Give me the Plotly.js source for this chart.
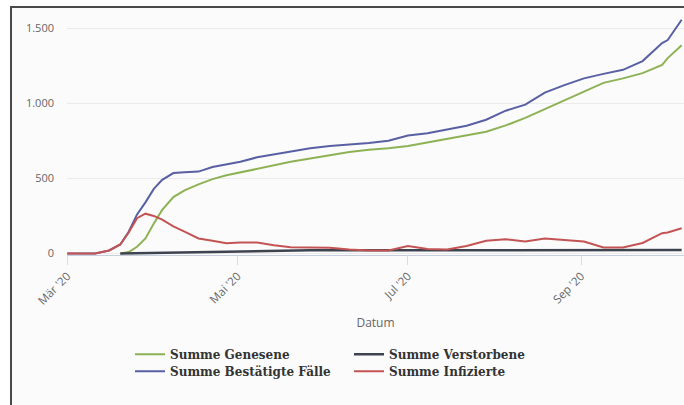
<!DOCTYPE html>
<html>
<head>
<meta charset="utf-8">
<script src="https://cdn.plot.ly/plotly-3.0.1.min.js"></script>
<style>
  html, body { margin: 0; padding: 0; background: #ffffff; }
  #wrap { position: relative; width: 684px; height: 405px; overflow: hidden; }
  #frame { position: absolute; left: 10px; top: 6px; right: -4px; bottom: -4px;
           border-left: 2px solid #4a4a4a; border-top: 2px solid #4a4a4a; background: #fbfbfb; }
  #chart { position: absolute; left: 0; top: 0; width: 684px; height: 405px; }
</style>
</head>
<body>
<div id="wrap">
  <div id="frame"></div>
  <div id="chart"></div>
</div>
<script>
// Dates (daily reports, sampled)
const dates = [
  '2020-03-01','2020-03-11','2020-03-16','2020-03-20','2020-03-23','2020-03-26','2020-03-29',
  '2020-04-01','2020-04-04','2020-04-08','2020-04-12','2020-04-17','2020-04-22','2020-04-27',
  '2020-05-02','2020-05-08','2020-05-14','2020-05-20','2020-05-27','2020-06-03','2020-06-10',
  '2020-06-17','2020-06-24','2020-07-01','2020-07-08','2020-07-15','2020-07-22','2020-07-29',
  '2020-08-05','2020-08-12','2020-08-19','2020-08-26','2020-09-02','2020-09-09','2020-09-16',
  '2020-09-23','2020-09-30','2020-10-02','2020-10-07'
];
const summeGenesene = [
  null, null, null, 0, 10, 45, 100,
  200, 290, 375, 420, 460, 495, 520,
  540, 560, 585, 610, 632, 655, 675,
  690, 700, 715, 740, 762, 785, 810,
  852, 902, 960, 1020, 1080, 1135, 1165,
  1200, 1255, 1300, 1385
];
const summeVerstorbene = [
  null, null, null, 0, 1, 2, 3,
  4, 6, 8, 10, 12, 14, 15,
  16, 18, 19, 20, 21, 21, 22,
  22, 22, 22, 22, 22, 22, 22,
  22, 22, 22, 22, 22, 22, 22,
  23, 23, 23, 24
];
const summeBestaetigte = [
  0, 0, 20, 60, 145, 260, 340,
  430, 490, 535, 540, 545, 575, 595,
  610, 640, 660, 680, 700, 715, 725,
  735, 750, 785, 800, 825, 850, 890,
  950, 990, 1070, 1120, 1165, 1195, 1222,
  1280, 1400, 1420, 1555
];
const summeInfizierte = [
  0, 0, 20, 60, 140, 235, 265,
  250, 225, 180, 145, 100, 85, 68,
  73, 73, 55, 42, 40, 38, 27,
  20, 20, 50, 30, 27, 50, 85,
  95, 80, 100, 90, 80, 40, 40,
  70, 135, 140, 168
];
const tickDates = ['2020-03-01','2020-05-01','2020-07-01','2020-09-01'];
const tickLabels = ["Mär '20","Mai '20","Jul '20","Sep '20"];
const yTickVals = [0, 500, 1000, 1500];
const yTickLabels = ['0', '500', '1.000', '1.500'];

const mk = (name, y, color, legend, width) => ({
  type: 'scatter', mode: 'lines', name: name, x: dates, y: y,
  line: {color: color, width: width}, connectgaps: false, legend: legend,
  hovertemplate: '%{x}<br>' + name + ': %{y}<extra></extra>'
});

const data = [
  mk('Summe Genesene', summeGenesene, '#8db255', 'legend', 2),
  mk('Summe Verstorbene', summeVerstorbene, '#3e4350', 'legend', 2.5),
  mk('Summe Bestätigte Fälle', summeBestaetigte, '#5860a3', 'legend2', 2),
  mk('Summe Infizierte', summeInfizierte, '#c45454', 'legend2', 2)
];

const legFont = {family: 'DejaVu Serif, serif', size: 12, color: '#333333', weight: 'bold'};
const legBase = {
  orientation: 'h', x: (130 - 67) / 617, xanchor: 'left', yanchor: 'top',
  entrywidth: 174, entrywidthmode: 'pixels',
  font: legFont, bgcolor: 'rgba(0,0,0,0)', traceorder: 'normal'
};

const layout = {
  width: 684, height: 405,
  margin: {l: 67, r: 0, t: 13, b: 150},
  paper_bgcolor: 'rgba(0,0,0,0)',
  plot_bgcolor: 'rgba(0,0,0,0)',
  separators: ',.',
  font: {family: 'Open Sans, Lato, sans-serif', color: '#666666', size: 10},
  showlegend: true,
  xaxis: {
    type: 'date',
    range: ['2020-02-29T22:00', '2020-10-07T20:00'],
    tickmode: 'array', tickvals: tickDates, ticktext: tickLabels,
    tickangle: -45, ticks: 'outside', ticklen: 9, tickcolor: '#d8dce6', tickwidth: 1,
    tickfont: {size: 11.5, color: '#666666'},
    showgrid: false, zeroline: false,
    showline: true, linecolor: '#c6cede', linewidth: 1,
    title: {text: 'Datum', font: {size: 12, color: '#666666'}, standoff: 12}
  },
  yaxis: {
    range: [-10, 1600],
    tickmode: 'array', tickvals: yTickVals, ticktext: yTickLabels,
    tickfont: {size: 11, color: '#666666'},
    showgrid: true, gridcolor: '#ebebeb', gridwidth: 1,
    zeroline: false, showline: false, ticks: '', ticklabelstandoff: 12
  },
  legend: Object.assign({}, legBase, {y: -0.35}),
  legend2: Object.assign({}, legBase, {y: -0.42})
};

Plotly.newPlot('chart', data, layout, {displayModeBar: false, staticPlot: true});
</script>
</body>
</html>
